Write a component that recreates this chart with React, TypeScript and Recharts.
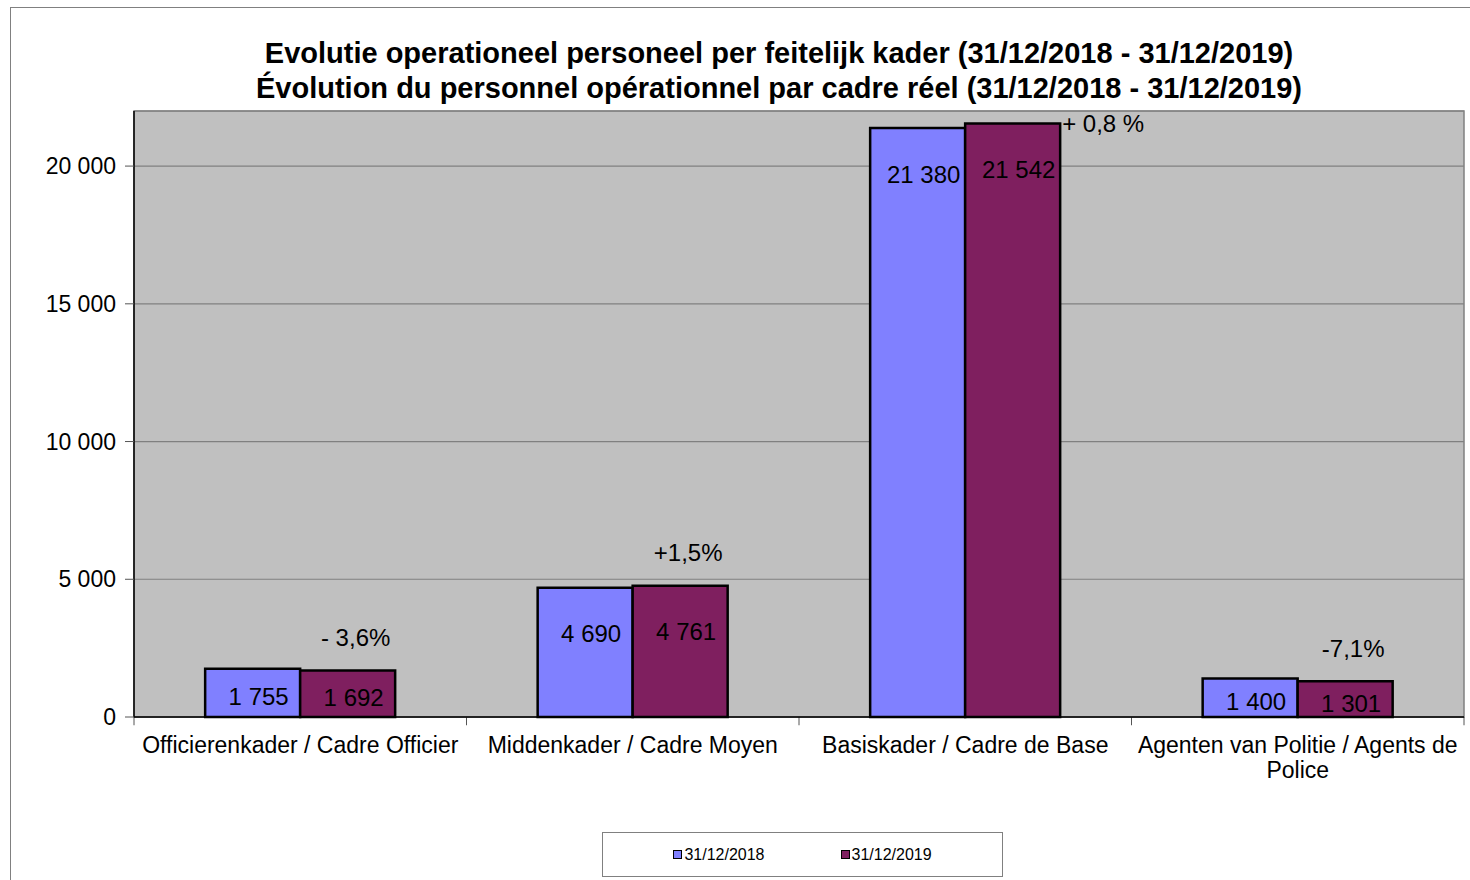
import React from 'react'
import {
  BarChart,
  Bar,
  XAxis,
  YAxis,
  CartesianGrid,
  LabelList,
  ReferenceArea,
  ReferenceLine,
} from 'recharts'

const TITLE_LINES = [
  'Evolutie operationeel personeel per feitelijk kader (31/12/2018 - 31/12/2019)',
  'Évolution du personnel opérationnel par cadre réel (31/12/2018 - 31/12/2019)',
]
const CATEGORIES = [
  'Officierenkader / Cadre Officier',
  'Middenkader / Cadre Moyen',
  'Basiskader / Cadre de Base',
  'Agenten van Politie / Agents de Police',
]
const VALUES_2018 = [1755, 4690, 21380, 1400]
const VALUES_2019 = [1692, 4761, 21542, 1301]
const CHANGES = ['- 3,6%', '+1,5%', '+ 0,8 %', '-7,1%']
const SERIES_NAMES = ['31/12/2018', '31/12/2019']
const SERIES_COLORS = ['#8080FF', '#7F1F5F']
const Y_TICKS = [0, 5000, 10000, 15000, 20000]
const CATEGORY_EDGES = [0, 1, 2, 3, 4]

const FONT = '"Liberation Sans", Arial, sans-serif'
const MARGIN = { top: 111, right: 6, bottom: 103, left: 0 }

const data = CATEGORIES.map((name, i) => ({
  name,
  pos: i + 0.5,
  v2018: VALUES_2018[i],
  v2019: VALUES_2019[i],
  change: CHANGES[i],
}))

const fmt = (n: number) => String(n).replace(/\B(?=(\d{3})+(?!\d))/g, ' ')

let measureCtx: CanvasRenderingContext2D | null = null
function wrapWords(text: string, maxWidth: number, font: string): string[] {
  if (!measureCtx) measureCtx = document.createElement('canvas').getContext('2d')
  const ctx = measureCtx!
  ctx.font = font
  const lines: string[] = []
  let cur = ''
  for (const w of text.split(' ')) {
    const next = cur ? cur + ' ' + w : w
    if (cur && ctx.measureText(next).width > maxWidth) {
      lines.push(cur)
      cur = w
    } else {
      cur = next
    }
  }
  if (cur) lines.push(cur)
  return lines
}

function ValueLabel(props: any) {
  const { x, y, width, height, value } = props
  const cy = Math.min(y + 46, y + height / 2 + 4)
  return (
    <text
      x={x + width / 2 + 6}
      y={cy}
      textAnchor="middle"
      dominantBaseline="central"
      fontSize={24}
      fontFamily={FONT}
      fill="#000"
    >
      {fmt(value)}
    </text>
  )
}

function ChangeLabel(props: any) {
  const { x, y, width, value } = props
  // no room above the bar: put it at the right of the bar top
  if (y - 33 < MARGIN.top + 10) {
    return (
      <text x={x + width + 2} y={y} textAnchor="start" dominantBaseline="central" fontSize={24} fontFamily={FONT} fill="#000">
        {value}
      </text>
    )
  }
  return (
    <text x={x + width / 2 + 8} y={y - 33} textAnchor="middle" dominantBaseline="central" fontSize={24} fontFamily={FONT} fill="#000">
      {value}
    </text>
  )
}

function CategoryTick(props: any) {
  const { x, y, payload } = props
  const lines = wrapWords(String(payload.value), 325, `23px ${FONT}`)
  return (
    <text x={x} y={y + 28} textAnchor="middle" fontSize={23} fontFamily={FONT} fill="#000">
      {lines.map((l, i) => (
        <tspan key={i} x={x} dy={i === 0 ? 0 : 25}>
          {l}
        </tspan>
      ))}
    </text>
  )
}

export default function App() {
  return (
    <div
      style={{
        position: 'absolute',
        left: 0,
        top: 0,
        width: 1470,
        height: 880,
        overflow: 'hidden',
        background: '#fff',
        fontFamily: FONT,
      }}
    >
      {/* outer chart frame */}
      <div
        style={{
          position: 'absolute',
          left: 10,
          top: 7,
          width: 1500,
          height: 900,
          border: '1px solid #808080',
        }}
      />

      <div
        style={{
          position: 'absolute',
          left: 179,
          top: 36,
          width: 1200,
          textAlign: 'center',
          fontWeight: 'bold',
          fontSize: 29,
          lineHeight: '35px',
          color: '#000',
          whiteSpace: 'nowrap',
        }}
      >
        {TITLE_LINES.map((t) => (
          <div key={t}>{t}</div>
        ))}
      </div>

      <div style={{ position: 'absolute', left: 0, top: 0 }}>
        <BarChart
          width={1470}
          height={880}
          data={data}
          margin={MARGIN}
          barCategoryGap="21.4%"
          barGap={0}
        >
          <CartesianGrid vertical={false} fill="#C0C0C0" stroke="#808080" strokeWidth={1.2} />
          <XAxis
            xAxisId="edges"
            dataKey="pos"
            type="number"
            domain={[0, 4]}
            allowDataOverflow
            hide
          />
          <XAxis
            dataKey="name"
            interval={0}
            height={60}
            tickLine={false}
            axisLine={{ stroke: '#000', strokeWidth: 1.5 }}
            tick={<CategoryTick />}
          />
          <YAxis
            width={134}
            domain={[0, 22000]}
            ticks={Y_TICKS}
            tickFormatter={fmt}
            tickSize={9}
            tickMargin={9}
            tickLine={{ stroke: '#555' }}
            axisLine={{ stroke: '#000', strokeWidth: 1.5 }}
            tick={{ fontSize: 23, fontFamily: FONT, fill: '#000' }}
          />
          <ReferenceArea
            xAxisId="edges"
            x1={0}
            x2={4}
            y1={0}
            y2={22000}
            fill="none"
            stroke="#808080"
            strokeWidth={1.5}
          />
          {CATEGORY_EDGES.map((e) => (
            <ReferenceLine
              key={e}
              xAxisId="edges"
              segment={[
                { x: e, y: 0 },
                { x: e, y: -300 },
              ]}
              stroke="#555"
              ifOverflow="visible"
            />
          ))}
          <Bar
            dataKey="v2018"
            name={SERIES_NAMES[0]}
            fill={SERIES_COLORS[0]}
            stroke="#000"
            strokeWidth={2.5}
            isAnimationActive={false}
          >
            <LabelList dataKey="v2018" content={<ValueLabel />} />
          </Bar>
          <Bar
            dataKey="v2019"
            name={SERIES_NAMES[1]}
            fill={SERIES_COLORS[1]}
            stroke="#000"
            strokeWidth={2.5}
            isAnimationActive={false}
          >
            <LabelList dataKey="v2019" content={<ValueLabel />} />
            <LabelList dataKey="change" content={<ChangeLabel />} />
          </Bar>
        </BarChart>
      </div>

      {/* legend */}
      <div
        style={{
          position: 'absolute',
          left: 602,
          top: 832,
          width: 401,
          height: 45,
          boxSizing: 'border-box',
          border: '1px solid #808080',
          display: 'flex',
          alignItems: 'center',
          justifyContent: 'center',
          gap: 76,
          fontSize: 16,
          color: '#000',
        }}
      >
        {SERIES_NAMES.map((name, i) => (
          <div key={name} style={{ display: 'flex', alignItems: 'center' }}>
            <span
              style={{
                display: 'inline-block',
                width: 7,
                height: 7,
                border: '1.5px solid #000',
                background: SERIES_COLORS[i],
                marginRight: 2,
              }}
            />
            <span>{name}</span>
          </div>
        ))}
      </div>
    </div>
  )
}
